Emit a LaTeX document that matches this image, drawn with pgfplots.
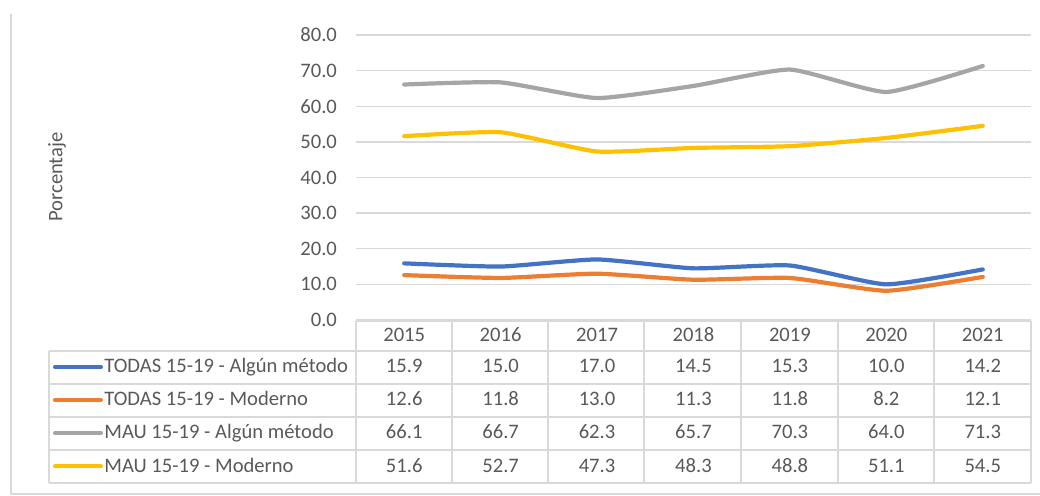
\documentclass[border=0pt]{standalone}
\usepackage{pgfplots}
\pgfplotsset{compat=1.18}
\usepackage{pgfplotstable}
\usepackage{fontspec}
\setmainfont{Carlito}
\definecolor{cblue}{HTML}{4472C4}
\definecolor{corange}{HTML}{ED7D31}
\definecolor{cgray}{HTML}{A5A5A5}
\definecolor{cyellow}{HTML}{FFC000}
\definecolor{txt}{HTML}{595959}
\definecolor{grd}{HTML}{D9D9D9}

\pgfplotstableread{
x year a b c d
0 2015 15.9 12.6 66.1 51.6
1 2016 15.0 11.8 66.7 52.7
2 2017 17.0 13.0 62.3 47.3
3 2018 14.5 11.3 65.7 48.3
4 2019 15.3 11.8 70.3 48.8
5 2020 10.0 8.2 64.0 51.1
6 2021 14.2 12.1 71.3 54.5
}\data

\begin{document}
\begin{tikzpicture}[font=\fontsize{10.3}{12}\selectfont]
\begin{axis}[at={(0,0)}, anchor=south west, scale only axis,
  width=337.5pt, height=142.5pt,
  xmin=-0.5, xmax=6.5, ymin=0, ymax=80,
  ytick={0,10,...,80}, xtick=\empty,
  ymajorgrids, grid style={grd, line width=0.75pt},
  axis line style={draw=none}, major tick length=0pt,
  yticklabel style={text=txt, xshift=-6pt, /pgf/number format/.cd, fixed, fixed zerofill, precision=1, assume math mode=true},
  clip=false]
\addplot[cblue, line width=2.1pt, smooth, tension=0.3, line cap=round] table[x=x,y=a]{\data};
\addplot[corange, line width=2.1pt, smooth, tension=0.3, line cap=round] table[x=x,y=b]{\data};
\addplot[cgray, line width=2.1pt, smooth, tension=0.3, line cap=round] table[x=x,y=c]{\data};
\addplot[cyellow, line width=2.1pt, smooth, tension=0.3, line cap=round] table[x=x,y=d]{\data};
\end{axis}
\begin{scope}[shift={(-178pt,160pt)}, x=0.5pt, y=-0.5pt]
\path[use as bounding box] (0,0) rectangle (1040,496);
\draw[grd, line width=0.9pt] (11,14) -- (11,494) -- (1040,494);
\begin{scope}[grd, line width=0.6pt]
\draw (356,321) -- (1031,321);
\foreach \y in {351,384,417,450,483} \draw (49,\y) -- (1031,\y);
\draw (49,351) -- (49,483);
\foreach \x in {356,452,548,644,741,838,934,1031} \draw (\x,321) -- (\x,483);
\end{scope}
\node[rotate=90, text=txt] at (57,177) {Porcentaje};
\foreach \i in {0,...,6} {
  \pgfplotstablegetelem{\i}{year}\of\data
  \node[text=txt, anchor=base] at ({404.2+96.43*\i},342) {\pgfplotsretval};
}
\foreach \col/\yc/\clr/\name in {a/367/cblue/TODAS 15-19 - Algún método, b/400/corange/TODAS 15-19 - Moderno, c/433/cgray/MAU 15-19 - Algún método, d/466.5/cyellow/MAU 15-19 - Moderno} {
  \draw[\clr, line width=2pt, line cap=round] (55,\yc) -- (101,\yc);
  \node[text=txt, anchor=base west, inner sep=0pt] at (104,\yc+6) {\name};
  \foreach \i in {0,...,6} {
    \pgfplotstablegetelem{\i}{\col}\of\data
    \node[text=txt, anchor=base] at ({404.2+96.43*\i},\yc+6) {\pgfplotsretval};
  }
}
\end{scope}
\end{tikzpicture}
\end{document}
